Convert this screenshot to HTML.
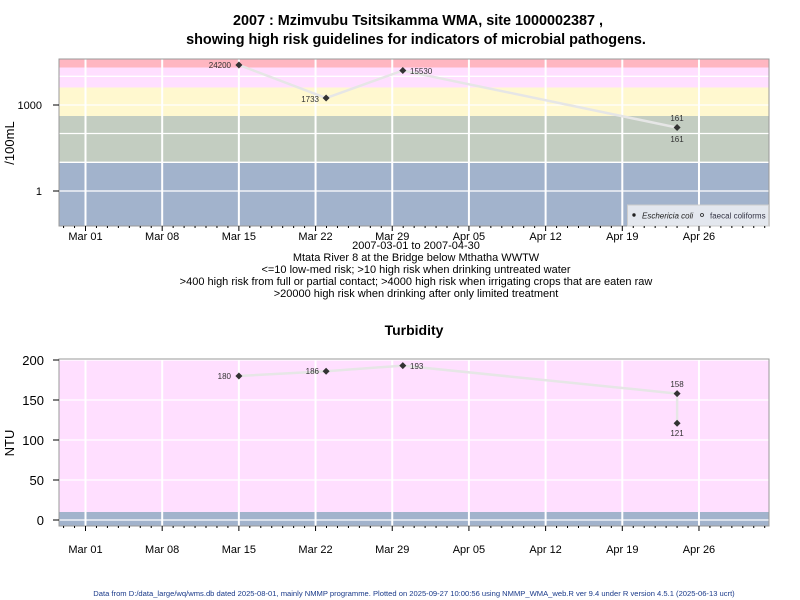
<!DOCTYPE html>
<html><head><meta charset="utf-8"><style>
body{margin:0;background:#fff;}
svg{display:block;font-family:"Liberation Sans",Arial,sans-serif;}
</style></head><body>
<svg id="s" width="800" height="600" viewBox="0 0 800 600" xmlns="http://www.w3.org/2000/svg">
<text x="418" y="25" font-size="14.4" font-weight="bold" text-anchor="middle">2007 : Mzimvubu Tsitsikamma WMA, site 1000002387 ,</text>
<text x="416" y="44" font-size="14.4" font-weight="bold" text-anchor="middle">showing high risk guidelines for indicators of microbial pathogens.</text>
<rect x="59" y="59" width="710" height="9" fill="#ffb6c1"/>
<rect x="59" y="67.5" width="710" height="20" fill="#ffdfff"/>
<rect x="59" y="87.5" width="710" height="28.5" fill="#fff8cf"/>
<rect x="59" y="116" width="710" height="46" fill="#c3cdc1"/>
<rect x="59" y="162" width="710" height="64" fill="#a2b3cc"/>
<g id="g1"></g>
<rect x="59" y="59" width="710" height="167" fill="none" stroke="#999" stroke-width="1"/>
<text x="42" y="109" font-size="11" text-anchor="end">1000</text>
<text x="42" y="195" font-size="11" text-anchor="end">1</text>
<line x1="53" y1="105" x2="59" y2="105" stroke="#000"/><line x1="53" y1="191" x2="59" y2="191" stroke="#000"/>
<text transform="translate(14,143) rotate(-90)" font-size="13" text-anchor="middle">/100mL</text>
<polyline points="238.9,65 326.1,98 402.8,70.5 677.1,127.6" fill="none" stroke="#e6e6e6" stroke-width="2.5"/>
<g fill="#333">
<path d="M238.9,61.5l3.5,3.5l-3.5,3.5l-3.5,-3.5z"/><path d="M326.1,94.5l3.5,3.5l-3.5,3.5l-3.5,-3.5z"/>
<path d="M402.8,67l3.5,3.5l-3.5,3.5l-3.5,-3.5z"/><path d="M677.1,124l3.5,3.5l-3.5,3.5l-3.5,-3.5z"/>
</g>
<g font-size="8" fill="#333">
<text x="231" y="68" text-anchor="end">24200</text>
<text x="319" y="102" text-anchor="end">1733</text>
<text x="410" y="74">15530</text>
<text x="677" y="121" text-anchor="middle">161</text>
<text x="677" y="142" text-anchor="middle">161</text>
</g>
<rect x="627.5" y="205" width="141" height="21" fill="#e3e7ee" stroke="#ccc"/>
<circle cx="634" cy="215" r="1.7" fill="#222"/>
<text x="642" y="218.5" font-size="8" font-style="italic" fill="#222">Eschericia coli</text>
<circle cx="702" cy="215" r="1.5" fill="none" stroke="#222" stroke-width="0.8"/>
<text x="710" y="218.5" font-size="8" fill="#334">faecal coliforms</text>
<g font-size="11" text-anchor="middle">
<text x="416" y="249">2007-03-01 to 2007-04-30</text>
<text x="416" y="261">Mtata River 8 at the Bridge below Mthatha WWTW</text>
<text x="416" y="273">&lt;=10 low-med risk; &gt;10 high risk when drinking untreated water</text>
<text x="416" y="285">&gt;400 high risk from full or partial contact; &gt;4000 high risk when irrigating crops that are eaten raw</text>
<text x="416" y="297">&gt;20000 high risk when drinking after only limited treatment</text>
</g>
<text x="414" y="335" font-size="14" font-weight="bold" text-anchor="middle">Turbidity</text>
<rect x="59" y="359" width="710" height="167" fill="#ffdfff"/>
<rect x="59" y="512" width="710" height="14" fill="#a2b3cc"/>
<g id="g2"></g>
<rect x="59" y="359" width="710" height="167" fill="none" stroke="#999"/>
<g font-size="13" text-anchor="end">
<text x="44" y="365">200</text><text x="44" y="405">150</text><text x="44" y="445">100</text><text x="44" y="485">50</text><text x="44" y="525">0</text>
</g>
<g stroke="#000"><line x1="53" y1="360" x2="59" y2="360"/><line x1="53" y1="400" x2="59" y2="400"/><line x1="53" y1="440" x2="59" y2="440"/><line x1="53" y1="480" x2="59" y2="480"/><line x1="53" y1="520" x2="59" y2="520"/></g>
<text transform="translate(14,443) rotate(-90)" font-size="13" text-anchor="middle">NTU</text>
<polyline points="238.9,376 326.1,371.2 402.8,365.6 677.1,393.6 677.1,423.2" fill="none" stroke="#e6e6e6" stroke-width="2.5"/>
<g fill="#333">
<path d="M238.9,372.5l3.5,3.5l-3.5,3.5l-3.5,-3.5z"/><path d="M326.1,367.7l3.5,3.5l-3.5,3.5l-3.5,-3.5z"/>
<path d="M402.8,362.1l3.5,3.5l-3.5,3.5l-3.5,-3.5z"/><path d="M677.1,390.1l3.5,3.5l-3.5,3.5l-3.5,-3.5z"/>
<path d="M677.1,419.7l3.5,3.5l-3.5,3.5l-3.5,-3.5z"/>
</g>
<g font-size="8" fill="#333">
<text x="231" y="379" text-anchor="end">180</text>
<text x="319" y="374" text-anchor="end">186</text>
<text x="410" y="369">193</text>
<text x="677" y="387" text-anchor="middle">158</text>
<text x="677" y="436" text-anchor="middle">121</text>
</g>
<text x="414" y="596" font-size="7.6" fill="#1a3a8a" text-anchor="middle">Data from D:/data_large/wq/wms.db dated 2025-08-01, mainly NMMP programme. Plotted on 2025-09-27 10:00:56 using NMMP_WMA_web.R ver 9.4 under R version 4.5.1 (2025-06-13 ucrt)</text>
</svg>
<script>
var NS="http://www.w3.org/2000/svg",s=document.getElementById('s');
function el(p,t,a,txt){var e=document.createElementNS(NS,t);for(var k in a)e.setAttribute(k,a[k]);if(txt)e.textContent=txt;p.appendChild(e);return e;}
var x0=85.5,d=10.955,labs=["Mar 01","Mar 08","Mar 15","Mar 22","Mar 29","Apr 05","Apr 12","Apr 19","Apr 26"];
function panel(g,top,bot,hy,ly){
 hy.forEach(function(y){el(g,'line',{x1:59,x2:769,y1:y,y2:y,stroke:'#fff','stroke-width':1.3});});
 for(var i=0;i<9;i++){var x=x0+i*7*d;el(g,'line',{x1:x,x2:x,y1:top,y2:bot,stroke:'#fff','stroke-width':2});
  el(s,'line',{x1:x,x2:x,y1:bot,y2:bot+5,stroke:'#000'});
  el(s,'text',{x:x,y:ly,'font-size':11,'text-anchor':'middle'},labs[i]);}
 for(var k=-2;k<63;k++){var x=x0+k*d;if(x<60||x>768||k%7==0)continue;el(s,'line',{x1:x,x2:x,y1:bot,y2:bot+2,stroke:'#000'});}
}
panel(document.getElementById('g1'),59,226,[76.3,105,133.5,162.3,191],240);
panel(document.getElementById('g2'),359,526,[360,400,440,480,520],553);
</script>
</body></html>
